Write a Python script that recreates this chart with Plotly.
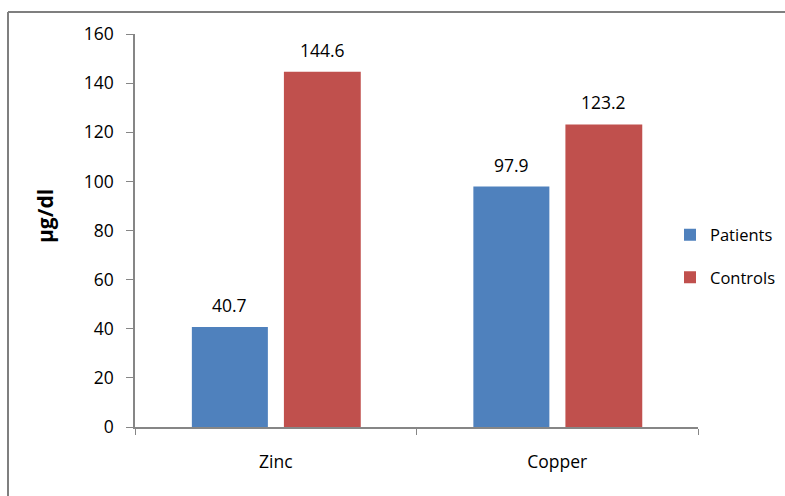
import plotly.graph_objects as go

categories = ["Zinc", "Copper"]
patients = [40.7, 97.9]
controls = [144.6, 123.2]
patient_labels = ["40.7", "97.9"]
control_labels = ["144.6", "123.2"]
y_ticks = [0, 20, 40, 60, 80, 100, 120, 140, 160]

FONT = "Open Sans"
FS = 17.5
P_OFF, P_W = -0.298, 0.27
C_OFF, C_W = 0.029, 0.273

fig = go.Figure()
fig.add_trace(go.Bar(
    x=categories, y=patients, name="Patients",
    marker=dict(color="#4F81BD", line=dict(width=0)),
    width=P_W, offset=P_OFF, legendgroup="a",
))
fig.add_trace(go.Bar(
    x=categories, y=controls, name="Controls",
    marker=dict(color="#C0504D", line=dict(width=0)),
    width=C_W, offset=C_OFF, legendgroup="b",
))

W0, W1 = 135, 698
pw = W1 - W0

annotations = []
for i, (v, t) in enumerate(zip(patients, patient_labels)):
    annotations.append(dict(x=i + P_OFF + P_W / 2, y=v, xref="x", yref="y", text=t,
                            showarrow=False, yshift=22, yanchor="middle",
                            font=dict(size=FS, family=FONT, color="#000000")))
for i, (v, t) in enumerate(zip(controls, control_labels)):
    annotations.append(dict(x=i + C_OFF + C_W / 2, y=v, xref="x", yref="y", text=t,
                            showarrow=False, yshift=22, yanchor="middle",
                            font=dict(size=FS, family=FONT, color="#000000")))
annotations.append(dict(x=(45 - W0) / pw, y=(427 - 216) / 393, xref="paper", yref="paper",
                        text="<b>µg/dl</b>", textangle=-90, showarrow=False,
                        xanchor="center", yanchor="middle",
                        font=dict(size=21, family=FONT, color="#000000")))

fig.update_layout(
    width=785, height=496,
    margin=dict(l=135, r=785 - 698, t=34, b=496 - 427, autoexpand=False),
    paper_bgcolor="white", plot_bgcolor="white",
    barmode="overlay",
    font=dict(family=FONT, size=FS, color="#000000"),
    showlegend=True,
    legend=dict(x=(670 - W0) / pw, y=(427 - 256) / 393, xanchor="left", yanchor="middle",
                font=dict(size=16.5, family=FONT), tracegroupgap=18,
                bgcolor="rgba(0,0,0,0)", itemwidth=30),
    annotations=annotations,
    xaxis=dict(showline=True, linecolor="#868686", linewidth=1.5, range=[-0.5, 1.5],
               ticks="outside", tickson="boundaries", ticklen=6, tickcolor="#868686",
               tickfont=dict(size=FS, family=FONT), ticklabelstandoff=18,
               showgrid=False, zeroline=False),
    yaxis=dict(range=[0, 160], tickvals=y_ticks, showline=True, linecolor="#868686",
               linewidth=1.5, ticks="outside", ticklen=7, tickcolor="#868686",
               tickfont=dict(size=FS, family=FONT), ticklabelstandoff=9,
               showgrid=False, zeroline=False),
    shapes=[
        dict(type="line", xref="paper", yref="paper",
             x0=(8 - W0) / pw, x1=(790 - W0) / pw,
             y0=(427 - 12) / 393, y1=(427 - 12) / 393,
             line=dict(color="#7f7f7f", width=2)),
        dict(type="line", xref="paper", yref="paper",
             x0=(8 - W0) / pw, x1=(8 - W0) / pw,
             y0=(427 - 12) / 393, y1=(427 - 500) / 393,
             line=dict(color="#7f7f7f", width=2)),
    ],
)
fig.write_html("out.html")
